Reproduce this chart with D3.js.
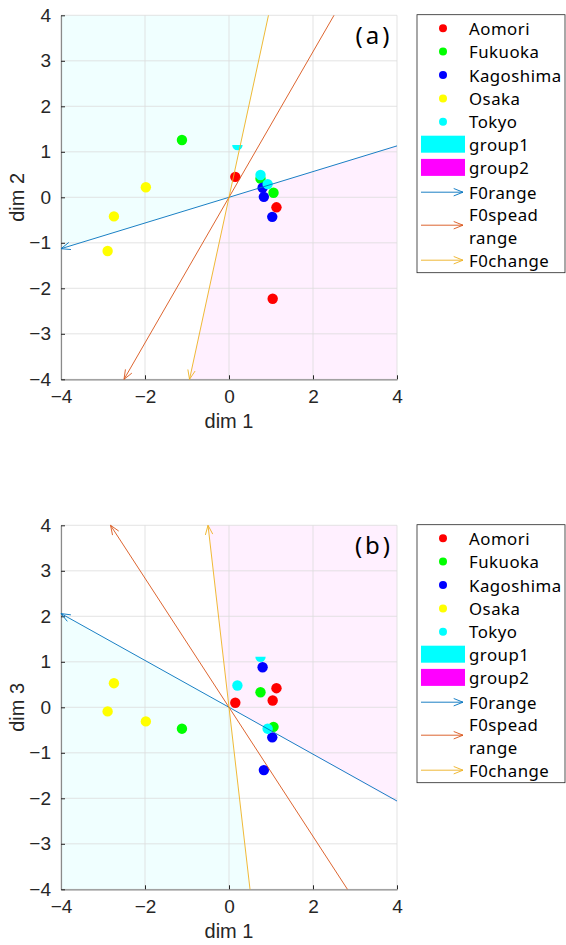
<!DOCTYPE html>
<html>
<head>
<meta charset="utf-8">
<script src="https://cdn.jsdelivr.net/npm/d3@7"></script>
<style>
  body { margin: 0; background: #fff; }
  svg { display: block; }
  .tick-label { font-family: "Liberation Sans", Arial, sans-serif; font-size: 19px; fill: #262626; }
  .axis-label { font-family: "Liberation Sans", Arial, sans-serif; font-size: 20px; fill: #262626; }
  .legend-text { font-family: "Noto Sans", sans-serif; font-size: 16.8px; letter-spacing: 0.5px; fill: #000; }
  .panel-label { font-family: "Noto Sans", sans-serif; font-size: 24px; letter-spacing: 3px; fill: #000; }
</style>
</head>
<body>
<svg width="566" height="945"></svg>
<script>
document.addEventListener("DOMContentLoaded", function() {
  const width = 566;
  const height = 945;

  // cities and their colours
  const cities = ["Aomori", "Fukuoka", "Kagoshima", "Osaka", "Tokyo"];
  const cityColors = ["#ff0000", "#00ff00", "#0000ff", "#ffff00", "#00ffff"];

  // points (3 per city)
  const pointCity = ["Aomori", "Aomori", "Aomori", "Fukuoka", "Fukuoka", "Fukuoka",
                     "Kagoshima", "Kagoshima", "Kagoshima", "Osaka", "Osaka", "Osaka",
                     "Tokyo", "Tokyo", "Tokyo"];
  const dim1 = [0.15, 1.13, 1.04, -1.12, 0.75, 1.06, 0.80, 0.83, 1.03, -1.98, -2.74, -2.89, 0.20, 0.75, 0.92];
  const dim2 = [0.45, -0.22, -2.23, 1.26, 0.41, 0.10, 0.21, 0.01, -0.43, 0.22, -0.42, -1.18, 1.15, 0.49, 0.29];
  const dim3 = [0.10, 0.42, 0.15, -0.47, 0.33, -0.43, 0.88, -1.38, -0.66, -0.31, 0.53, -0.09, 0.48, 1.11, -0.47];
  // points shown only as their lower half, per panel
  const halfPointsA = [12];
  const halfPointsB = [13];

  // feature vectors: arrow end (the line runs through the origin to the opposite end)
  const features = ["F0range", "F0spead range", "F0change"];
  const featureColors = ["#0072BD", "#D95319", "#EDB120"];
  const arrowA = [[-4, -1.13], [-2.5, -4], [-0.94, -4]];
  const arrowB = [[-4, 2.06], [-2.82, 4], [-0.5, 4]];

  // group regions
  const groups = ["group1", "group2"];
  const groupColors = ["#00ffff", "#ff00ff"];
  const regionsA = [
    [[-4, 4], [0.94, 4], [0, 0], [-4, -1.13]],
    [[4, 1.14], [0, 0], [-0.94, -4], [4, -4]]
  ];
  const regionsB = [
    [[-4, 2.06], [0, 0], [0.49, -4], [-4, -4]],
    [[-0.5, 4], [4, 4], [4, -2.09], [0, 0]]
  ];

  const xTicks = [-4, -2, 0, 2, 4];
  const yTicks = [-4, -3, -2, -1, 0, 1, 2, 3, 4];

  const svg = d3.select("svg").attr("width", width).attr("height", height);

  function drawPanel(top, yVals, yLabel, regions, arrows, halfPoints, tag) {
    const left = 61, plotW = 336, plotH = 364;
    const x = d3.scaleLinear().domain([-4, 4]).range([left, left + plotW]);
    const y = d3.scaleLinear().domain([-4, 4]).range([top + plotH, top]);
    const g = svg.append("g");

    // shaded groups
    regions.forEach((poly, i) => {
      g.append("path")
        .attr("d", "M" + poly.map(p => x(p[0]) + "," + y(p[1])).join("L") + "Z")
        .attr("fill", groupColors[i])
        .attr("fill-opacity", 0.06);
    });

    // grid
    g.selectAll(".gx").data(xTicks).enter().append("line")
      .attr("x1", d => x(d)).attr("x2", d => x(d))
      .attr("y1", top).attr("y2", top + plotH)
      .attr("stroke", "#dcdcdc").attr("stroke-width", 0.8);
    g.selectAll(".gy").data(yTicks).enter().append("line")
      .attr("y1", d => y(d)).attr("y2", d => y(d))
      .attr("x1", left).attr("x2", left + plotW)
      .attr("stroke", "#dcdcdc").attr("stroke-width", 0.8);

    // axes (ticks inside, labels outside)
    const xAxis = d3.axisBottom(x).tickValues(xTicks).tickSizeInner(-4).tickSizeOuter(0).tickPadding(10)
      .tickFormat(d => d < 0 ? "\u2212" + Math.abs(d) : d);
    const yAxis = d3.axisLeft(y).tickValues(yTicks).tickSizeInner(-4).tickSizeOuter(0).tickPadding(10)
      .tickFormat(d => d < 0 ? "\u2212" + Math.abs(d) : d);
    const gx = g.append("g").attr("transform", `translate(0,${top + plotH})`).call(xAxis);
    const gy = g.append("g").attr("transform", `translate(${left},0)`).call(yAxis);
    [gx, gy].forEach(a => {
      a.select(".domain").attr("stroke", "#8a8a8a").attr("stroke-width", 1.2);
      a.selectAll(".tick line").attr("stroke", "#262626");
      a.selectAll(".tick text").attr("class", "tick-label").attr("fill", null);
      a.attr("font-family", null).attr("font-size", null);
    });
    gx.selectAll(".tick text").attr("dy", "0.71em");

    // axis labels
    g.append("text").attr("class", "axis-label")
      .attr("x", x(0)).attr("y", top + plotH + 49)
      .attr("text-anchor", "middle").text("dim 1");
    g.append("text").attr("class", "axis-label")
      .attr("transform", `translate(24,${y(0)}) rotate(-90)`)
      .attr("text-anchor", "middle").text(yLabel);

    // points
    pointCity.forEach((c, i) => {
      const col = cityColors[cities.indexOf(c)];
      const px = x(dim1[i]), py = y(yVals[i]);
      if (halfPoints.includes(i)) {
        g.append("path")
          .attr("d", d3.arc().innerRadius(0).outerRadius(5.2).startAngle(Math.PI / 2).endAngle(Math.PI * 1.5)())
          .attr("transform", `translate(${px},${py})`)
          .attr("fill", col);
      } else {
        g.append("circle").attr("cx", px).attr("cy", py).attr("r", 5.2).attr("fill", col);
      }
    });

    // feature lines with open arrowheads
    arrows.forEach((a, i) => {
      const x1 = x(-a[0]), y1 = y(-a[1]), x2 = x(a[0]), y2 = y(a[1]);
      g.append("line").attr("x1", x1).attr("y1", y1).attr("x2", x2).attr("y2", y2)
        .attr("stroke", featureColors[i]).attr("stroke-width", 0.9);
      arrowHead(g, x1, y1, x2, y2, featureColors[i]);
    });

    // panel tag
    g.append("text").attr("class", "panel-label")
      .attr("x", left + plotW - 23).attr("y", top + 29)
      .attr("text-anchor", "middle").text(tag);
  }

  function arrowHead(g, x1, y1, x2, y2, color) {
    const ang = Math.atan2(y2 - y1, x2 - x1);
    const len = 10, spread = 0.38;
    [ang + Math.PI - spread, ang + Math.PI + spread].forEach(a => {
      g.append("line")
        .attr("x1", x2).attr("y1", y2)
        .attr("x2", x2 + len * Math.cos(a)).attr("y2", y2 + len * Math.sin(a))
        .attr("stroke", color).attr("stroke-width", 0.9);
    });
  }

  function drawLegend(top) {
    const g = svg.append("g");
    const left = 417, right = 565;
    g.append("rect").attr("x", left).attr("y", top).attr("width", right - left).attr("height", 258)
      .attr("fill", "#fff").attr("stroke", "#262626").attr("stroke-width", 0.8);
    const textX = 469;
    cities.forEach((c, i) => {
      const cy = top + 13.5 + i * 23.4;
      g.append("circle").attr("cx", 443).attr("cy", cy).attr("r", 4).attr("fill", cityColors[i]);
      g.append("text").attr("class", "legend-text").attr("x", textX).attr("y", cy)
        .attr("dominant-baseline", "central").text(c);
    });
    groups.forEach((gr, i) => {
      const cy = top + 129.5 + i * 23.2;
      g.append("rect").attr("x", 421).attr("y", cy - 8.5).attr("width", 44).attr("height", 17)
        .attr("fill", groupColors[i]);
      g.append("text").attr("class", "legend-text").attr("x", textX).attr("y", cy)
        .attr("dominant-baseline", "central").text(gr);
    });
    const featRows = [top + 177.5, top + 210.5, top + 245.5];
    features.forEach((f, i) => {
      const cy = featRows[i];
      g.append("line").attr("x1", 421).attr("x2", 463).attr("y1", cy).attr("y2", cy)
        .attr("stroke", featureColors[i]).attr("stroke-width", 0.9);
      arrowHead(g, 421, cy, 463, cy, featureColors[i]);
      const words = f.split(" ");
      const t = g.append("text").attr("class", "legend-text").attr("x", textX)
        .attr("y", words.length > 1 ? cy - 11.5 : cy).attr("dominant-baseline", "central");
      words.forEach((w, j) => {
        t.append("tspan").attr("x", textX).attr("dy", j === 0 ? 0 : 23).text(w);
      });
    });
  }

  drawPanel(15.3, dim2, "dim 2", regionsA, arrowA, halfPointsA, "(a)");
  drawLegend(14.7);
  drawPanel(525.3, dim3, "dim 3", regionsB, arrowB, halfPointsB, "(b)");
  drawLegend(524.7);
});
</script>
</body>
</html>
